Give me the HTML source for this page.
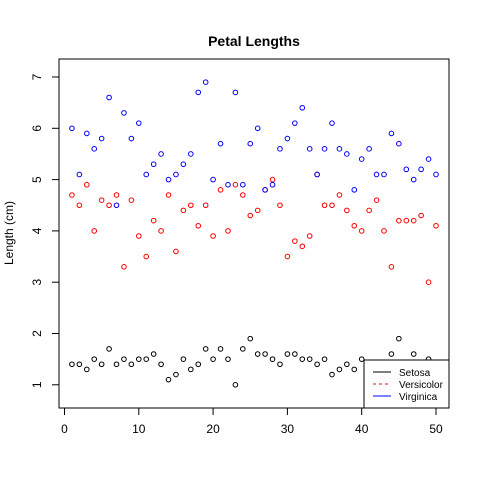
<!DOCTYPE html>
<html><head><meta charset="utf-8"><style>body{margin:0;background:#fff}svg{display:block;font-family:"Liberation Sans",Arial,sans-serif}</style></head>
<body>
<svg id="chart" width="480" height="480" xmlns="http://www.w3.org/2000/svg">
<text x="254" y="46" text-anchor="middle" font-size="14" font-weight="bold">Petal Lengths</text>
<text transform="translate(13,233) rotate(-90)" text-anchor="middle" font-size="12">Length (cm)</text>
<rect x="59" y="59" width="390" height="349" fill="none" stroke="#000"/>
<g id="axes"></g>
<g id="points"></g>
<g>
<rect x="364" y="360" width="85" height="48" fill="#fff" stroke="#000"/>
<line x1="373" y1="372" x2="391" y2="372" stroke="#000"/>
<line x1="373" y1="384" x2="391" y2="384" stroke="#f00" stroke-dasharray="3,3"/>
<line x1="373" y1="396" x2="391" y2="396" stroke="#00f"/>
<text x="399" y="376" font-size="10">Setosa</text>
<text x="399" y="388" font-size="10">Versicolor</text>
<text x="399" y="400" font-size="10">Virginica</text>
</g>
</svg>
<script>
const setosa=[1.4,1.4,1.3,1.5,1.4,1.7,1.4,1.5,1.4,1.5,1.5,1.6,1.4,1.1,1.2,1.5,1.3,1.4,1.7,1.5,1.7,1.5,1.0,1.7,1.9,1.6,1.6,1.5,1.4,1.6,1.6,1.5,1.5,1.4,1.5,1.2,1.3,1.4,1.3,1.5,1.3,1.3,1.3,1.6,1.9,1.4,1.6,1.4,1.5,1.4];
const versicolor=[4.7,4.5,4.9,4.0,4.6,4.5,4.7,3.3,4.6,3.9,3.5,4.2,4.0,4.7,3.6,4.4,4.5,4.1,4.5,3.9,4.8,4.0,4.9,4.7,4.3,4.4,4.8,5.0,4.5,3.5,3.8,3.7,3.9,5.1,4.5,4.5,4.7,4.4,4.1,4.0,4.4,4.6,4.0,3.3,4.2,4.2,4.2,4.3,3.0,4.1];
const virginica=[6.0,5.1,5.9,5.6,5.8,6.6,4.5,6.3,5.8,6.1,5.1,5.3,5.5,5.0,5.1,5.3,5.5,6.7,6.9,5.0,5.7,4.9,6.7,4.9,5.7,6.0,4.8,4.9,5.6,5.8,6.1,6.4,5.6,5.1,5.6,6.1,5.6,5.5,4.8,5.4,5.6,5.1,5.1,5.9,5.7,5.2,5.0,5.2,5.4,5.1];
const xTicks=[0,10,20,30,40,50];
const yTicks=[1,2,3,4,5,6,7];
const NS="http://www.w3.org/2000/svg";
const xs=v=>64.5+v*7.43;
const ys=v=>384.8-(v-1)*51.3;
function mk(t,a){const e=document.createElementNS(NS,t);for(const k in a)e.setAttribute(k,a[k]);return e;}
const ax=document.getElementById('axes');
xTicks.forEach(t=>{
  const l=mk('line',{x1:xs(t),x2:xs(t),y1:408,y2:415,stroke:'#000'});
  
  
  ax.appendChild(l);
  const tx=mk('text',{x:xs(t),y:433,'text-anchor':'middle','font-size':12});
  
  
  tx.textContent=t;ax.appendChild(tx);
});
yTicks.forEach(t=>{
  const l=mk('line',{x1:52,x2:59,y1:ys(t),y2:ys(t),stroke:'#000'});
  
  
  ax.appendChild(l);
  const tx=mk('text',{transform:`translate(41,${ys(t)}) rotate(-90)`,'text-anchor':'middle','font-size':12});
  
  
  tx.textContent=t;ax.appendChild(tx);
});
const pg=document.getElementById('points');
[[setosa,'#000','setosa'],[versicolor,'#f00','versicolor'],[virginica,'#00f','virginica']].forEach(([arr,c,n])=>{
  arr.forEach((v,i)=>{
    const p=mk('circle',{cx:xs(i+1),cy:ys(v),r:2.3,fill:'none',stroke:c,'stroke-width':1});
    
    
    pg.appendChild(p);
  });
});
</script>
</body></html>
